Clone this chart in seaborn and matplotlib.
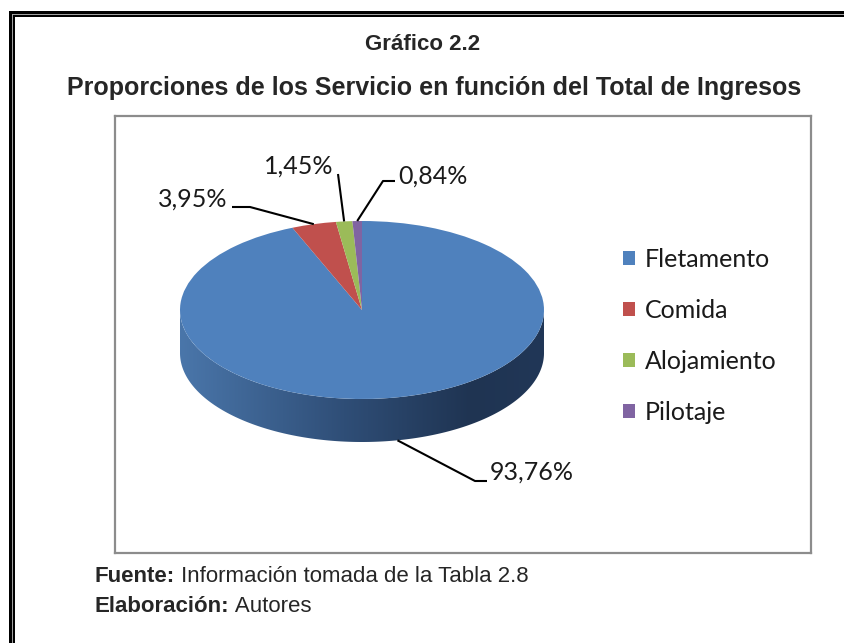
import numpy as np
import matplotlib
matplotlib.use('Agg')
import matplotlib.pyplot as plt
import seaborn as sns
from matplotlib.colors import LinearSegmentedColormap
from matplotlib.patches import Polygon
from matplotlib.lines import Line2D
from matplotlib.text import Annotation

# ---- data ----
categories = ['Fletamento', 'Comida', 'Alojamiento', 'Pilotaje']
values = [93.76, 3.95, 1.45, 0.84]
colors = ['#4F81BD', '#C0504D', '#9BBB59', '#8064A2']
title1 = 'Gráfico 2.2'
title2 = 'Proporciones de los Servicio en función del Total de Ingresos'

sns.set_theme(style='white')
plt.rcParams['font.family'] = ['Liberation Sans', 'DejaVu Sans']

W, H = 844, 643
fig = plt.figure(figsize=(W / 100, H / 100), dpi=100)
fig.patch.set_facecolor('white')

def fx(x):
    return x / W

def fy(y):
    return 1 - y / H

# ---- outer double frame ----
def frame_line(xs, ys, lw, color='black'):
    fig.add_artist(Line2D([fx(x) for x in xs], [fy(y) for y in ys], color=color,
                          lw=lw * 0.72, solid_joinstyle='miter', solid_capstyle='butt',
                          transform=fig.transFigure))

frame_line([9.5, 9.5, 850], [650, 12, 12], 3)
frame_line([11.8, 11.8, 850], [650, 14.2, 14.2], 1, color='#A0A0A0')
frame_line([14.2, 14.2, 850], [650, 16.2, 16.2], 2)

# ---- titles ----
fig.text(fx(422.5), fy(45), title1, ha='center', va='center', fontweight='bold', fontsize=16)
fig.text(fx(434), fy(88), title2, ha='center', va='center', fontweight='bold', fontsize=18)

# ---- footer ----
t1 = fig.text(fx(95), fy(576), 'Fuente:', ha='left', va='center', fontweight='bold', fontsize=16)
fig.add_artist(Annotation(' Información tomada de la Tabla 2.8', xy=(1, 0), xycoords=t1,
                          va='bottom', ha='left', fontsize=16))
t2 = fig.text(fx(95), fy(606), 'Elaboración:', ha='left', va='center', fontweight='bold', fontsize=16)
fig.add_artist(Annotation(' Autores', xy=(1, 0), xycoords=t2, va='bottom', ha='left', fontsize=16))

# ---- chart area ----
L, R, T, B = 115, 811, 116, 553
ax = fig.add_axes([fx(L), fy(B), (R - L) / W, (B - T) / H])

CX, CY, RX, RY = 362, 310, 182, 89
DEPTH = 43 / RY

def dx(px):
    return (px - CX) / RX

def dy(py):
    return (CY - py) / RY

wedges, _ = ax.pie(values, colors=colors, startangle=90, counterclock=False,
                   wedgeprops=dict(linewidth=0, zorder=3))

# side wall of the 3D pie
th = np.linspace(np.pi, 2 * np.pi, 300)
top_arc = np.column_stack([np.cos(th), np.sin(th)])
bot_arc = np.column_stack([np.cos(th[::-1]), np.sin(th[::-1]) - DEPTH])
poly = Polygon(np.vstack([top_arc, bot_arc]), closed=True, facecolor='none', edgecolor='none')
ax.add_patch(poly)
cmap = LinearSegmentedColormap.from_list('side', [(0, '#4A76AA'), (0.45, '#2F4E77'),
                                                  (0.8, '#1F3452'), (1, '#213757')])
grad = np.linspace(0, 1, 256).reshape(1, -1)
im = ax.imshow(grad, cmap=cmap, extent=(-1, 1, -1 - DEPTH, 0), aspect='auto', zorder=1,
               interpolation='bilinear')
im.set_clip_path(poly)

ax.set_aspect('auto')
ax.set_xlim(dx(L), dx(R))
ax.set_ylim(dy(B), dy(T))
ax.set_frame_on(True)
for s in ax.spines.values():
    s.set_color('#8C8C8C')
    s.set_linewidth(1.6)
ax.set_xticks([])
ax.set_yticks([])

# ---- data labels with leader lines ----
tot = sum(values)
cum = np.cumsum([0] + values) / tot
mid = np.deg2rad(90 - 360 * (cum[:-1] + cum[1:]) / 2)
anchors = [(np.cos(a), np.sin(a)) for a in mid]
anchors[0] = (anchors[0][0], anchors[0][1] - DEPTH)

label_layout = [
    dict(text=(490, 472), ha='left', path=[(475, 481), (487, 481)]),
    dict(text=(227, 199), ha='right', path=[(250, 207), (232, 207)]),
    dict(text=(333, 166), ha='right', path=[(338, 174)]),
    dict(text=(398, 176), ha='left', path=[(383, 181), (395, 181)]),
]
for v, anc, lay in zip(values, anchors, label_layout):
    xs = [anc[0]] + [dx(p[0]) for p in lay['path']]
    ys = [anc[1]] + [dy(p[1]) for p in lay['path']]
    ax.plot(xs, ys, color='black', lw=1.5, zorder=5, solid_capstyle='butt')
    lbl = f'{v:.2f}%'.replace('.', ',')
    ax.text(dx(lay['text'][0]), dy(lay['text'][1]), lbl, ha=lay['ha'], va='center',
            fontsize=18, family='Lato', color='#1A1A1A', zorder=6)

# ---- legend ----
leg = ax.legend(wedges, categories, loc='center left', bbox_to_anchor=(fx(623), fy(336)),
                bbox_transform=fig.transFigure, frameon=False,
                prop=dict(family='Lato', size=18), handlelength=0.48, handleheight=0.48,
                handletextpad=0.4, labelspacing=1.12, borderpad=0, borderaxespad=0)
for t in leg.get_texts():
    t.set_color('#1A1A1A')

fig.savefig('out.png', dpi=100)
